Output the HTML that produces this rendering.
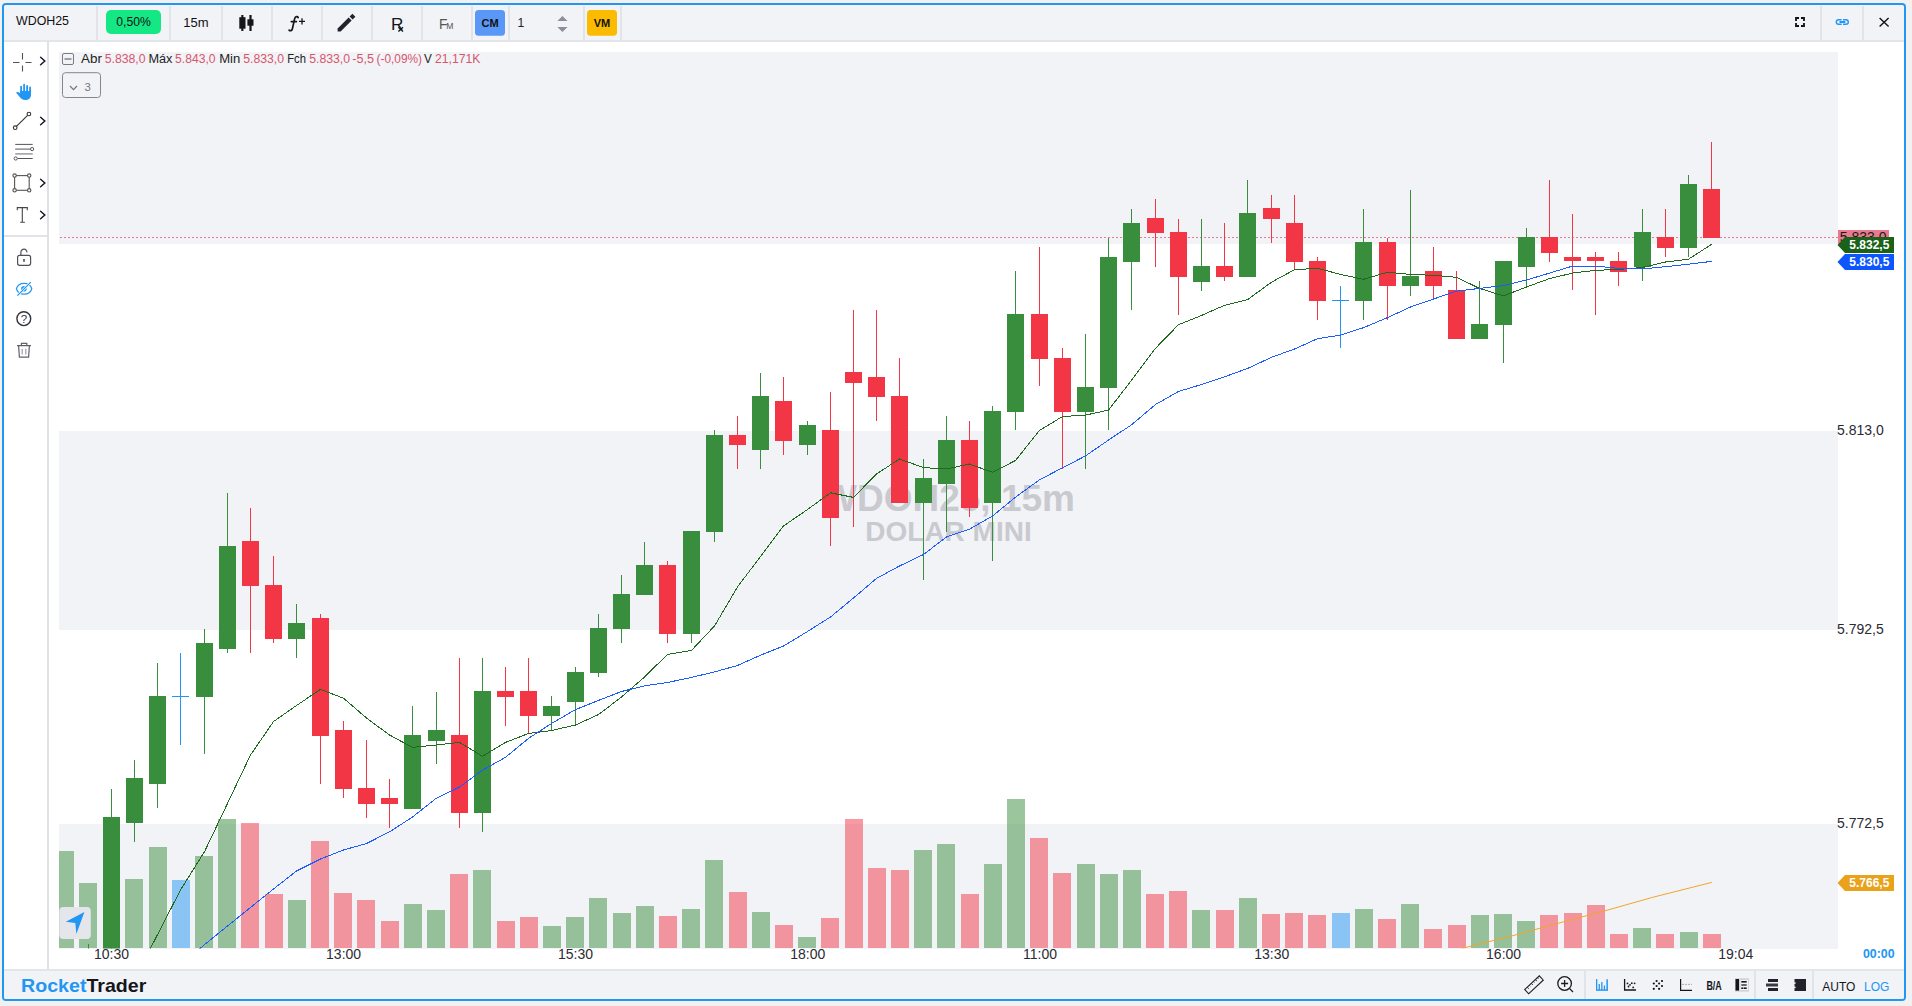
<!DOCTYPE html>
<html><head><meta charset="utf-8"><style>
*{margin:0;padding:0;box-sizing:border-box}
html,body{width:1912px;height:1006px;overflow:hidden;background:#f1f1f1;font-family:"Liberation Sans",sans-serif;color:#111}
.a{position:absolute}
#frame{left:2px;top:3px;width:1904px;height:998px;border:2px solid #2196f3;border-radius:4px;background:#fff;overflow:hidden}
#tb{left:4px;top:5px;width:1900px;height:37px;background:#f1f3f7;border-bottom:2px solid #e2e5ea;border-radius:4px 4px 0 0}
.sep{position:absolute;top:6px;width:2px;height:33px;background:#e2e5ea}
#side{left:4px;top:42px;width:45px;height:927px;background:#fff;border-right:2px solid #dfe2e7}
#ft{left:4px;top:969px;width:1900px;height:30px;background:#f1f3f7;border-top:2px solid #e2e5ea;border-radius:0 0 2px 2px}
.t{position:absolute;white-space:nowrap;line-height:1}
svg{position:absolute;left:0;top:0}
</style></head><body>
<div id="frame" class="a"></div>
<div id="tb" class="a"></div>
<div id="side" class="a"></div>
<div id="ft" class="a"></div>
<svg width="1912" height="1006" viewBox="0 0 1912 1006">
<rect x="59" y="52" width="1779" height="192" fill="#f2f3f7"/>
<rect x="59" y="431" width="1779" height="199" fill="#f2f3f7"/>
<rect x="59" y="824" width="1779" height="125" fill="#f2f3f7"/>
<text x="948.5" y="511" text-anchor="middle" font-family="Liberation Sans" font-weight="bold" font-size="37" fill="#c9cacf">WDOH25, 15m</text>
<text x="948.5" y="540.6" text-anchor="middle" font-family="Liberation Sans" font-weight="bold" font-size="28" fill="#c9cacf">DOLAR MINI</text>
<line x1="60" y1="237.5" x2="1838" y2="237.5" stroke="#e57c93" stroke-width="1" stroke-dasharray="2 2"/>
<clipPath id="pc"><rect x="59" y="52" width="1779" height="896.5"/></clipPath>
<g clip-path="url(#pc)" shape-rendering="crispEdges">
<rect x="56" y="851" width="18" height="97" fill="rgba(56,142,60,0.5)"/>
<rect x="79" y="883" width="18" height="65" fill="rgba(56,142,60,0.5)"/>
<rect x="102" y="948" width="18" height="0" fill="rgba(56,142,60,0.5)"/>
<rect x="125" y="879" width="18" height="69" fill="rgba(56,142,60,0.5)"/>
<rect x="149" y="847" width="18" height="101" fill="rgba(56,142,60,0.5)"/>
<rect x="172" y="880" width="18" height="68" fill="rgba(33,150,243,0.5)"/>
<rect x="195" y="856" width="18" height="92" fill="rgba(56,142,60,0.5)"/>
<rect x="218" y="819" width="18" height="129" fill="rgba(56,142,60,0.5)"/>
<rect x="241" y="823" width="18" height="125" fill="rgba(242,54,69,0.5)"/>
<rect x="265" y="894" width="18" height="54" fill="rgba(242,54,69,0.5)"/>
<rect x="288" y="900" width="18" height="48" fill="rgba(56,142,60,0.5)"/>
<rect x="311" y="841" width="18" height="107" fill="rgba(242,54,69,0.5)"/>
<rect x="334" y="893" width="18" height="55" fill="rgba(242,54,69,0.5)"/>
<rect x="357" y="900" width="18" height="48" fill="rgba(242,54,69,0.5)"/>
<rect x="381" y="921" width="18" height="27" fill="rgba(242,54,69,0.5)"/>
<rect x="404" y="904" width="18" height="44" fill="rgba(56,142,60,0.5)"/>
<rect x="427" y="910" width="18" height="38" fill="rgba(56,142,60,0.5)"/>
<rect x="450" y="874" width="18" height="74" fill="rgba(242,54,69,0.5)"/>
<rect x="473" y="870" width="18" height="78" fill="rgba(56,142,60,0.5)"/>
<rect x="497" y="921" width="18" height="27" fill="rgba(242,54,69,0.5)"/>
<rect x="520" y="917" width="18" height="31" fill="rgba(242,54,69,0.5)"/>
<rect x="543" y="926" width="18" height="22" fill="rgba(56,142,60,0.5)"/>
<rect x="566" y="917" width="18" height="31" fill="rgba(56,142,60,0.5)"/>
<rect x="589" y="898" width="18" height="50" fill="rgba(56,142,60,0.5)"/>
<rect x="613" y="913" width="18" height="35" fill="rgba(56,142,60,0.5)"/>
<rect x="636" y="906" width="18" height="42" fill="rgba(56,142,60,0.5)"/>
<rect x="659" y="916" width="18" height="32" fill="rgba(242,54,69,0.5)"/>
<rect x="682" y="909" width="18" height="39" fill="rgba(56,142,60,0.5)"/>
<rect x="705" y="860" width="18" height="88" fill="rgba(56,142,60,0.5)"/>
<rect x="729" y="892" width="18" height="56" fill="rgba(242,54,69,0.5)"/>
<rect x="752" y="912" width="18" height="36" fill="rgba(56,142,60,0.5)"/>
<rect x="775" y="925" width="18" height="23" fill="rgba(242,54,69,0.5)"/>
<rect x="798" y="937" width="18" height="11" fill="rgba(56,142,60,0.5)"/>
<rect x="821" y="918" width="18" height="30" fill="rgba(242,54,69,0.5)"/>
<rect x="845" y="819" width="18" height="129" fill="rgba(242,54,69,0.5)"/>
<rect x="868" y="868" width="18" height="80" fill="rgba(242,54,69,0.5)"/>
<rect x="891" y="870" width="18" height="78" fill="rgba(242,54,69,0.5)"/>
<rect x="914" y="850" width="18" height="98" fill="rgba(56,142,60,0.5)"/>
<rect x="937" y="844" width="18" height="104" fill="rgba(56,142,60,0.5)"/>
<rect x="961" y="894" width="18" height="54" fill="rgba(242,54,69,0.5)"/>
<rect x="984" y="864" width="18" height="84" fill="rgba(56,142,60,0.5)"/>
<rect x="1007" y="799" width="18" height="149" fill="rgba(56,142,60,0.5)"/>
<rect x="1030" y="838" width="18" height="110" fill="rgba(242,54,69,0.5)"/>
<rect x="1053" y="873" width="18" height="75" fill="rgba(242,54,69,0.5)"/>
<rect x="1077" y="864" width="18" height="84" fill="rgba(56,142,60,0.5)"/>
<rect x="1100" y="874" width="18" height="74" fill="rgba(56,142,60,0.5)"/>
<rect x="1123" y="870" width="18" height="78" fill="rgba(56,142,60,0.5)"/>
<rect x="1146" y="894" width="18" height="54" fill="rgba(242,54,69,0.5)"/>
<rect x="1169" y="891" width="18" height="57" fill="rgba(242,54,69,0.5)"/>
<rect x="1192" y="910" width="18" height="38" fill="rgba(56,142,60,0.5)"/>
<rect x="1216" y="910" width="18" height="38" fill="rgba(242,54,69,0.5)"/>
<rect x="1239" y="898" width="18" height="50" fill="rgba(56,142,60,0.5)"/>
<rect x="1262" y="914" width="18" height="34" fill="rgba(242,54,69,0.5)"/>
<rect x="1285" y="913" width="18" height="35" fill="rgba(242,54,69,0.5)"/>
<rect x="1308" y="915" width="18" height="33" fill="rgba(242,54,69,0.5)"/>
<rect x="1332" y="913" width="18" height="35" fill="rgba(33,150,243,0.5)"/>
<rect x="1355" y="909" width="18" height="39" fill="rgba(56,142,60,0.5)"/>
<rect x="1378" y="919" width="18" height="29" fill="rgba(242,54,69,0.5)"/>
<rect x="1401" y="904" width="18" height="44" fill="rgba(56,142,60,0.5)"/>
<rect x="1424" y="929" width="18" height="19" fill="rgba(242,54,69,0.5)"/>
<rect x="1448" y="925" width="18" height="23" fill="rgba(242,54,69,0.5)"/>
<rect x="1471" y="915" width="18" height="33" fill="rgba(56,142,60,0.5)"/>
<rect x="1494" y="914" width="18" height="34" fill="rgba(56,142,60,0.5)"/>
<rect x="1517" y="921" width="18" height="27" fill="rgba(56,142,60,0.5)"/>
<rect x="1540" y="915" width="18" height="33" fill="rgba(242,54,69,0.5)"/>
<rect x="1564" y="913" width="18" height="35" fill="rgba(242,54,69,0.5)"/>
<rect x="1587" y="905" width="18" height="43" fill="rgba(242,54,69,0.5)"/>
<rect x="1610" y="934" width="18" height="14" fill="rgba(242,54,69,0.5)"/>
<rect x="1633" y="928" width="18" height="20" fill="rgba(56,142,60,0.5)"/>
<rect x="1656" y="934" width="18" height="14" fill="rgba(242,54,69,0.5)"/>
<rect x="1680" y="932" width="18" height="16" fill="rgba(56,142,60,0.5)"/>
<rect x="1703" y="934" width="18" height="14" fill="rgba(242,54,69,0.5)"/>
<rect x="64" y="1000" width="1" height="1" fill="#388e3c"/>
<rect x="56" y="1000" width="17" height="1" fill="#388e3c"/>
<rect x="88" y="944" width="1" height="56" fill="#388e3c"/>
<rect x="80" y="1000" width="17" height="1" fill="#388e3c"/>
<rect x="111" y="789" width="1" height="171" fill="#388e3c"/>
<rect x="103" y="817" width="17" height="143" fill="#388e3c"/>
<rect x="134" y="760" width="1" height="82" fill="#388e3c"/>
<rect x="126" y="778" width="17" height="45" fill="#388e3c"/>
<rect x="157" y="663" width="1" height="145" fill="#388e3c"/>
<rect x="149" y="696" width="17" height="88" fill="#388e3c"/>
<rect x="180" y="653" width="1" height="92" fill="#2196f3"/>
<rect x="172" y="696" width="17" height="1" fill="#2196f3"/>
<rect x="204" y="629" width="1" height="125" fill="#388e3c"/>
<rect x="196" y="643" width="17" height="54" fill="#388e3c"/>
<rect x="227" y="493" width="1" height="160" fill="#388e3c"/>
<rect x="219" y="546" width="17" height="103" fill="#388e3c"/>
<rect x="250" y="508" width="1" height="145" fill="#f23645"/>
<rect x="242" y="541" width="17" height="45" fill="#f23645"/>
<rect x="273" y="556" width="1" height="87" fill="#f23645"/>
<rect x="265" y="585" width="17" height="54" fill="#f23645"/>
<rect x="296" y="604" width="1" height="54" fill="#388e3c"/>
<rect x="288" y="623" width="17" height="16" fill="#388e3c"/>
<rect x="320" y="614" width="1" height="170" fill="#f23645"/>
<rect x="312" y="618" width="17" height="118" fill="#f23645"/>
<rect x="343" y="721" width="1" height="77" fill="#f23645"/>
<rect x="335" y="730" width="17" height="59" fill="#f23645"/>
<rect x="366" y="740" width="1" height="78" fill="#f23645"/>
<rect x="358" y="788" width="17" height="16" fill="#f23645"/>
<rect x="389" y="779" width="1" height="49" fill="#f23645"/>
<rect x="381" y="798" width="17" height="6" fill="#f23645"/>
<rect x="412" y="706" width="1" height="103" fill="#388e3c"/>
<rect x="404" y="735" width="17" height="74" fill="#388e3c"/>
<rect x="436" y="692" width="1" height="72" fill="#388e3c"/>
<rect x="428" y="730" width="17" height="11" fill="#388e3c"/>
<rect x="459" y="658" width="1" height="170" fill="#f23645"/>
<rect x="451" y="735" width="17" height="78" fill="#f23645"/>
<rect x="482" y="658" width="1" height="174" fill="#388e3c"/>
<rect x="474" y="691" width="17" height="122" fill="#388e3c"/>
<rect x="505" y="667" width="1" height="59" fill="#f23645"/>
<rect x="497" y="691" width="17" height="6" fill="#f23645"/>
<rect x="528" y="658" width="1" height="76" fill="#f23645"/>
<rect x="520" y="691" width="17" height="25" fill="#f23645"/>
<rect x="551" y="696" width="1" height="35" fill="#388e3c"/>
<rect x="543" y="706" width="17" height="10" fill="#388e3c"/>
<rect x="575" y="667" width="1" height="59" fill="#388e3c"/>
<rect x="567" y="672" width="17" height="30" fill="#388e3c"/>
<rect x="598" y="614" width="1" height="63" fill="#388e3c"/>
<rect x="590" y="628" width="17" height="45" fill="#388e3c"/>
<rect x="621" y="575" width="1" height="68" fill="#388e3c"/>
<rect x="613" y="594" width="17" height="35" fill="#388e3c"/>
<rect x="644" y="542" width="1" height="53" fill="#388e3c"/>
<rect x="636" y="565" width="17" height="30" fill="#388e3c"/>
<rect x="667" y="561" width="1" height="82" fill="#f23645"/>
<rect x="659" y="565" width="17" height="69" fill="#f23645"/>
<rect x="691" y="531" width="1" height="112" fill="#388e3c"/>
<rect x="683" y="531" width="17" height="103" fill="#388e3c"/>
<rect x="714" y="430" width="1" height="112" fill="#388e3c"/>
<rect x="706" y="435" width="17" height="97" fill="#388e3c"/>
<rect x="737" y="416" width="1" height="53" fill="#f23645"/>
<rect x="729" y="435" width="17" height="10" fill="#f23645"/>
<rect x="760" y="373" width="1" height="96" fill="#388e3c"/>
<rect x="752" y="396" width="17" height="54" fill="#388e3c"/>
<rect x="783" y="377" width="1" height="78" fill="#f23645"/>
<rect x="775" y="401" width="17" height="40" fill="#f23645"/>
<rect x="807" y="421" width="1" height="34" fill="#388e3c"/>
<rect x="799" y="425" width="17" height="20" fill="#388e3c"/>
<rect x="830" y="392" width="1" height="154" fill="#f23645"/>
<rect x="822" y="430" width="17" height="88" fill="#f23645"/>
<rect x="853" y="310" width="1" height="217" fill="#f23645"/>
<rect x="845" y="372" width="17" height="11" fill="#f23645"/>
<rect x="876" y="310" width="1" height="111" fill="#f23645"/>
<rect x="868" y="377" width="17" height="20" fill="#f23645"/>
<rect x="899" y="358" width="1" height="145" fill="#f23645"/>
<rect x="891" y="396" width="17" height="107" fill="#f23645"/>
<rect x="923" y="459" width="1" height="121" fill="#388e3c"/>
<rect x="915" y="478" width="17" height="25" fill="#388e3c"/>
<rect x="946" y="416" width="1" height="116" fill="#388e3c"/>
<rect x="938" y="440" width="17" height="44" fill="#388e3c"/>
<rect x="969" y="421" width="1" height="96" fill="#f23645"/>
<rect x="961" y="440" width="17" height="68" fill="#f23645"/>
<rect x="992" y="406" width="1" height="155" fill="#388e3c"/>
<rect x="984" y="411" width="17" height="92" fill="#388e3c"/>
<rect x="1015" y="271" width="1" height="159" fill="#388e3c"/>
<rect x="1007" y="314" width="17" height="98" fill="#388e3c"/>
<rect x="1039" y="247" width="1" height="139" fill="#f23645"/>
<rect x="1031" y="314" width="17" height="45" fill="#f23645"/>
<rect x="1062" y="348" width="1" height="121" fill="#f23645"/>
<rect x="1054" y="358" width="17" height="54" fill="#f23645"/>
<rect x="1085" y="334" width="1" height="135" fill="#388e3c"/>
<rect x="1077" y="387" width="17" height="25" fill="#388e3c"/>
<rect x="1108" y="238" width="1" height="192" fill="#388e3c"/>
<rect x="1100" y="257" width="17" height="131" fill="#388e3c"/>
<rect x="1131" y="209" width="1" height="101" fill="#388e3c"/>
<rect x="1123" y="223" width="17" height="39" fill="#388e3c"/>
<rect x="1155" y="199" width="1" height="68" fill="#f23645"/>
<rect x="1147" y="218" width="17" height="15" fill="#f23645"/>
<rect x="1178" y="219" width="1" height="96" fill="#f23645"/>
<rect x="1170" y="232" width="17" height="45" fill="#f23645"/>
<rect x="1201" y="219" width="1" height="72" fill="#388e3c"/>
<rect x="1193" y="266" width="17" height="16" fill="#388e3c"/>
<rect x="1224" y="223" width="1" height="58" fill="#f23645"/>
<rect x="1216" y="266" width="17" height="11" fill="#f23645"/>
<rect x="1247" y="180" width="1" height="97" fill="#388e3c"/>
<rect x="1239" y="213" width="17" height="64" fill="#388e3c"/>
<rect x="1271" y="195" width="1" height="48" fill="#f23645"/>
<rect x="1263" y="208" width="17" height="11" fill="#f23645"/>
<rect x="1294" y="195" width="1" height="75" fill="#f23645"/>
<rect x="1286" y="223" width="17" height="39" fill="#f23645"/>
<rect x="1317" y="257" width="1" height="63" fill="#f23645"/>
<rect x="1309" y="261" width="17" height="40" fill="#f23645"/>
<rect x="1340" y="286" width="1" height="62" fill="#2196f3"/>
<rect x="1332" y="300" width="17" height="1" fill="#2196f3"/>
<rect x="1363" y="209" width="1" height="111" fill="#388e3c"/>
<rect x="1355" y="242" width="17" height="59" fill="#388e3c"/>
<rect x="1387" y="238" width="1" height="82" fill="#f23645"/>
<rect x="1379" y="242" width="17" height="44" fill="#f23645"/>
<rect x="1410" y="190" width="1" height="106" fill="#388e3c"/>
<rect x="1402" y="276" width="17" height="10" fill="#388e3c"/>
<rect x="1433" y="247" width="1" height="53" fill="#f23645"/>
<rect x="1425" y="271" width="17" height="15" fill="#f23645"/>
<rect x="1456" y="271" width="1" height="68" fill="#f23645"/>
<rect x="1448" y="290" width="17" height="49" fill="#f23645"/>
<rect x="1479" y="281" width="1" height="58" fill="#388e3c"/>
<rect x="1471" y="324" width="17" height="15" fill="#388e3c"/>
<rect x="1503" y="261" width="1" height="102" fill="#388e3c"/>
<rect x="1495" y="261" width="17" height="64" fill="#388e3c"/>
<rect x="1526" y="228" width="1" height="58" fill="#388e3c"/>
<rect x="1518" y="237" width="17" height="30" fill="#388e3c"/>
<rect x="1549" y="180" width="1" height="82" fill="#f23645"/>
<rect x="1541" y="237" width="17" height="16" fill="#f23645"/>
<rect x="1572" y="214" width="1" height="76" fill="#f23645"/>
<rect x="1564" y="257" width="17" height="4" fill="#f23645"/>
<rect x="1595" y="252" width="1" height="63" fill="#f23645"/>
<rect x="1587" y="257" width="17" height="4" fill="#f23645"/>
<rect x="1618" y="252" width="1" height="34" fill="#f23645"/>
<rect x="1610" y="261" width="17" height="11" fill="#f23645"/>
<rect x="1642" y="209" width="1" height="72" fill="#388e3c"/>
<rect x="1634" y="232" width="17" height="35" fill="#388e3c"/>
<rect x="1665" y="209" width="1" height="48" fill="#f23645"/>
<rect x="1657" y="237" width="17" height="11" fill="#f23645"/>
<rect x="1688" y="175" width="1" height="82" fill="#388e3c"/>
<rect x="1680" y="184" width="17" height="64" fill="#388e3c"/>
<rect x="1711" y="142" width="1" height="96" fill="#f23645"/>
<rect x="1703" y="189" width="17" height="49" fill="#f23645"/>
</g>
<g clip-path="url(#pc)">
<polyline points="134.5,979 157.5,934.7 180.5,890 204.5,851.7 227.5,803.4 250.5,755 273.5,721.6 296.5,705.5 320.5,689.4 343.5,698.2 366.5,718 389.5,735 412.5,747.4 436.5,745 459.5,742.4 482.5,756.3 505.5,742.4 528.5,733.5 551.5,730.5 575.5,725 598.5,714.6 621.5,697 644.5,677 667.5,654.4 691.5,650.4 714.5,626 737.5,587 760.5,556.4 783.5,526 807.5,509.5 830.5,492.8 853.5,497.4 876.5,474 899.5,459 923.5,467.6 946.5,469 969.5,464 992.5,472.3 1015.5,460.5 1039.5,430.4 1062.5,416.5 1085.5,415.1 1108.5,410.1 1131.5,380.3 1155.5,348.3 1178.5,324.7 1201.5,315.5 1224.5,305.3 1247.5,299.7 1271.5,282.2 1294.5,269.7 1317.5,268.3 1340.5,274.4 1363.5,279.3 1387.5,272.2 1410.5,274.5 1433.5,275.3 1456.5,277.3 1479.5,288.4 1503.5,295.9 1526.5,287 1549.5,278.6 1572.5,273.1 1595.5,270.3 1618.5,269.5 1642.5,267.5 1665.5,262 1688.5,259.2 1711.5,244.4" fill="none" stroke="#1e6a1e" stroke-width="1" shape-rendering="crispEdges"/>
<polyline points="180.5,966 204.5,944.6 227.5,926 250.5,907.5 273.5,889 296.5,871 320.5,859 343.5,850 366.5,843.5 389.5,831.9 412.5,817 436.5,798.1 459.5,787.1 482.5,770.2 505.5,757.3 528.5,738.4 551.5,723.5 575.5,709.6 598.5,700.4 621.5,691.5 644.5,685.8 667.5,682.5 691.5,677.4 714.5,671.9 737.5,665.5 760.5,655.2 783.5,646 807.5,631.5 830.5,617 853.5,598 876.5,578.4 899.5,566 923.5,554.5 946.5,537 969.5,529.1 992.5,516 1015.5,497.2 1039.5,479.8 1062.5,467.8 1085.5,455.9 1108.5,440.1 1131.5,424.8 1155.5,404.5 1178.5,391.5 1201.5,384.5 1224.5,376.8 1247.5,368.5 1271.5,357.3 1294.5,349 1317.5,338.7 1340.5,335.1 1363.5,327.7 1387.5,317.6 1410.5,307 1433.5,299 1456.5,291.2 1479.5,288.4 1503.5,285.6 1526.5,280 1549.5,273.1 1572.5,266.1 1595.5,266.1 1618.5,268.3 1642.5,268.9 1665.5,266.7 1688.5,264.2 1711.5,261.4" fill="none" stroke="#1a5cff" stroke-width="1" shape-rendering="crispEdges"/>
<polyline points="1462,948.4 1511.5,936 1559.5,922.9 1604.7,910.9 1652.7,897.3 1711.8,882.4" fill="none" stroke="#efa62a" stroke-width="1"/>
</g>
<text x="1837" y="434.9" font-family="Liberation Sans" font-size="14" fill="#2a2a33">5.813,0</text>
<text x="1837" y="634" font-family="Liberation Sans" font-size="14" fill="#2a2a33">5.792,5</text>
<text x="1837" y="827.9" font-family="Liberation Sans" font-size="14" fill="#2a2a33">5.772,5</text>
<text x="111.5" y="959" text-anchor="middle" font-family="Liberation Sans" font-size="14" fill="#2a2a33">10:30</text>
<text x="343.6" y="959" text-anchor="middle" font-family="Liberation Sans" font-size="14" fill="#2a2a33">13:00</text>
<text x="575.5" y="959" text-anchor="middle" font-family="Liberation Sans" font-size="14" fill="#2a2a33">15:30</text>
<text x="807.7" y="959" text-anchor="middle" font-family="Liberation Sans" font-size="14" fill="#2a2a33">18:00</text>
<text x="1040" y="959" text-anchor="middle" font-family="Liberation Sans" font-size="14" fill="#2a2a33">11:00</text>
<text x="1271.7" y="959" text-anchor="middle" font-family="Liberation Sans" font-size="14" fill="#2a2a33">13:30</text>
<text x="1503.6" y="959" text-anchor="middle" font-family="Liberation Sans" font-size="14" fill="#2a2a33">16:00</text>
<text x="1735.7" y="959" text-anchor="middle" font-family="Liberation Sans" font-size="14" fill="#2a2a33">19:04</text>
<text x="1894.6" y="958" text-anchor="end" font-family="Liberation Sans" font-weight="bold" font-size="12.4" fill="#2196f3">00:00</text>
<rect x="1838" y="230" width="51" height="14" fill="#e8798e"/>
<text x="1839.8" y="242" font-family="Liberation Sans" font-size="14" fill="#1a1a1a">5.833,0</text>
<path d="M1837.5,245.0 L1845.0,237 L1894,237 L1894,253 L1845.0,253 Z" fill="#1b6119"/><text x="1889.4" y="249" text-anchor="end" font-family="Liberation Sans" font-weight="bold" font-size="12" fill="#fff">5.832,5</text>
<path d="M1837.5,262.0 L1845.0,254 L1894,254 L1894,270 L1845.0,270 Z" fill="#0d55ff"/><text x="1889.4" y="266" text-anchor="end" font-family="Liberation Sans" font-weight="bold" font-size="12" fill="#fff">5.830,5</text>
<path d="M1837.5,883.0 L1845.0,875 L1894,875 L1894,891 L1845.0,891 Z" fill="#eaa21a"/><text x="1889.4" y="887" text-anchor="end" font-family="Liberation Sans" font-weight="bold" font-size="12" fill="#fff">5.766,5</text>
</svg>
<svg width="1912" height="1006" viewBox="0 0 1912 1006" font-family="Liberation Sans">
<!-- toolbar separators -->
<g fill="#e1e4e9"><rect x="96" y="6" width="2" height="34"/><rect x="169" y="6" width="2" height="34"/><rect x="221" y="6" width="2" height="34"/><rect x="271" y="6" width="2" height="34"/><rect x="321" y="6" width="2" height="34"/><rect x="371" y="6" width="2" height="34"/><rect x="421" y="6" width="2" height="34"/><rect x="471" y="6" width="2" height="34"/><rect x="508" y="6" width="2" height="34"/><rect x="583" y="6" width="2" height="34"/><rect x="620" y="6" width="2" height="34"/><rect x="1820" y="6" width="2" height="34"/><rect x="1862" y="6" width="2" height="34"/></g>
<text x="16" y="25.3" font-size="12.4" fill="#111">WDOH25</text>
<rect x="106" y="10" width="55" height="24" rx="5" fill="#13e884"/>
<text x="133.6" y="26.1" font-size="12.2" fill="#111" text-anchor="middle">0,50%</text>
<text x="196" y="27" font-size="13" fill="#111" text-anchor="middle">15m</text>
<!-- candle icon -->
<g fill="#15151c">
<rect x="239.3" y="17.2" width="6.2" height="11.5"/><rect x="241.3" y="15" width="2.1" height="16"/>
<rect x="247.4" y="19.3" width="6.1" height="6.4"/><rect x="249.4" y="15" width="2.2" height="16"/>
</g>
<path d="M298.2,17.6 C297.6,16.3 295.4,16.2 294.7,18.4 L292.4,28.8 C291.9,31 290,31.2 289.1,30.1 M291.3,21.6 H296.4" fill="none" stroke="#15151c" stroke-width="1.7" stroke-linecap="round"/>
<path d="M299,21.4 H305 M302,18.3 V24.6" stroke="#15151c" stroke-width="1.3"/>
<!-- pencil -->
<path d="M337.6,31.6 L337.6,28.6 L348.6,17.6 L351.6,20.6 L340.6,31.6 Z" fill="#22222e"/>
<path d="M349.6,16.6 L352.4,13.8 L355.4,16.8 L352.6,19.6 Z" fill="#22222e"/>
<text x="391" y="29.6" font-size="17.2" fill="#15151c">R</text>
<path d="M398.4,27.2 L403,31.4 M403,27.2 L398.4,31.4" stroke="#15151c" stroke-width="1.4"/>
<text x="439" y="28.9" font-size="13.8" fill="#555">F</text>
<text x="446.2" y="28.9" font-size="8.6" fill="#555">M</text>
<rect x="475" y="10" width="30" height="25.7" rx="3.5" fill="#5a98f7"/>
<text x="490" y="26.8" font-size="11" font-weight="bold" fill="#111" text-anchor="middle">CM</text>
<text x="517.5" y="26.9" font-size="12.2" fill="#222">1</text>
<path d="M557.4,21.1 L562.45,15.9 L567.5,21.1 Z M557.4,26.9 L567.5,26.9 L562.45,31.9 Z" fill="#8d8e99"/>
<rect x="587" y="10" width="30" height="25.7" rx="3.5" fill="#fbbb00"/>
<text x="602" y="26.8" font-size="11" font-weight="bold" fill="#111" text-anchor="middle">VM</text>
<!-- fullscreen -->
<path d="M1796,21 V18 H1799 M1801,18 H1804 V21 M1804,23 V26 H1801 M1799,26 H1796 V23" fill="none" stroke="#111" stroke-width="1.8"/>
<!-- link -->
<path d="M1841.6,19.7 H1838.6 A2.3,2.3 0 0 0 1838.6,24.3 H1841.6 M1843,19.7 H1846 A2.3,2.3 0 0 1 1846,24.3 H1843" fill="none" stroke="#2196f3" stroke-width="1.4"/><path d="M1840.2,22 H1844.6" stroke="#2196f3" stroke-width="1.9" stroke-linecap="round"/>
<!-- close -->
<path d="M1879.6,18 L1888.6,26.4 M1888.6,18 L1879.6,26.4" stroke="#111" stroke-width="1.4"/>

<!-- sidebar -->
<g stroke="#50505a" stroke-width="1.1" fill="none">
<path d="M13,62.5 H19.5 M25.5,62.5 H31.5 M22.5,53 V59.5 M22.5,65.5 V71.5"/>
</g>
<g stroke="#1a1a2a" stroke-width="1.5" fill="none" stroke-linecap="round">
<path d="M40.6,57.3 L44.8,61 L40.6,64.7"/>
<path d="M40.6,117.3 L44.8,121 L40.6,124.7"/>
<path d="M40.6,179.3 L44.8,183 L40.6,186.7"/>
<path d="M40.6,211.3 L44.8,215 L40.6,218.7"/>
</g>
<!-- hand -->
<g fill="#2196f3">
<rect x="20.2" y="85.7" width="1.8" height="9" rx="0.9"/>
<rect x="23.2" y="83.8" width="1.8" height="10" rx="0.9"/>
<rect x="26.2" y="85" width="1.8" height="9" rx="0.9"/>
<rect x="29.2" y="86.5" width="1.8" height="8" rx="0.9"/>
<path d="M16,92.6 C16.8,91.6 18.5,91.8 20.2,93.2 L20.2,91 L31,91 L31,95 C31,98 28.5,100 25.3,100 C22.5,100 20.8,98.6 19.5,96.8 Z"/>
</g>
<!-- line tool -->
<g stroke="#333" stroke-width="1.1" fill="#fff">
<line x1="16.4" y1="126.4" x2="27.6" y2="115.3"/>
<circle cx="15.2" cy="127.7" r="1.8"/><circle cx="28.9" cy="114" r="1.8"/>
</g>
<!-- fib lines -->
<g stroke="#555" stroke-width="1" fill="#fff">
<line x1="15.2" y1="144.4" x2="32.7" y2="144.4"/>
<line x1="15.2" y1="149.1" x2="30.3" y2="149.1"/>
<line x1="15.2" y1="153.9" x2="32.7" y2="153.9" stroke="#9a9aa2" stroke-width="1.5"/>
<line x1="17.5" y1="158.5" x2="32.7" y2="158.5"/>
<circle cx="32.1" cy="149.1" r="1.6"/><circle cx="15.7" cy="158.5" r="1.6"/>
</g>
<!-- rectangle -->
<g stroke="#555" stroke-width="1.1" fill="#fff">
<rect x="14.6" y="175.6" width="14.6" height="14.7" fill="none"/>
<circle cx="14.6" cy="175.6" r="1.7"/><circle cx="29.2" cy="175.6" r="1.7"/>
<circle cx="14.6" cy="190.3" r="1.7"/><circle cx="29.2" cy="190.3" r="1.7"/>
</g>
<!-- T -->
<path d="M17.3,210.3 V207.6 H27.3 V210.3 M22.3,207.6 V222.2 M20.2,222.2 H24.9" stroke="#444" stroke-width="1.1" fill="none"/>
<rect x="4" y="235" width="43" height="2" fill="#e0e3e8"/>
<!-- lock -->
<g stroke="#50505a" stroke-width="1.2" fill="none">
<rect x="17.6" y="255.3" width="13" height="10" rx="2"/>
<path d="M20.9,255 V252 A3,3 0 0 1 26.9,252.4"/>
</g>
<rect x="23.3" y="259" width="1.4" height="2.8" fill="#333"/>
<!-- eye -->
<circle cx="23.9" cy="288.7" r="2.8" fill="#2196f3"/>
<g stroke="#2196f3" stroke-width="1.2" fill="none">
<path d="M16.4,288.8 C18.6,281.6 29.6,281.6 31.8,288.8 C29.6,296 18.6,296 16.4,288.8 Z"/>
<line x1="17.4" y1="295.6" x2="30.8" y2="282.2" stroke="#fff" stroke-width="2.6"/><line x1="17.4" y1="295.6" x2="30.8" y2="282.2"/>
</g>
<!-- help -->
<circle cx="23.8" cy="318.7" r="6.9" stroke="#33333d" stroke-width="1.4" fill="none"/>
<text x="23.9" y="323.4" font-size="11.5" fill="#33333d" text-anchor="middle">?</text>
<!-- trash -->
<g stroke="#60606a" stroke-width="1.2" fill="none">
<path d="M17,345.6 H31 M21.4,345.4 V343.4 H26.8 V345.4 M18.6,345.6 L19.4,357.2 H28.6 L29.4,345.6"/>
</g>
<path d="M22.2,348.8 V354.4 M25.8,348.8 V354.4" stroke="#a0a0a8" stroke-width="1.2"/>

<!-- legend -->
<rect x="62.5" y="53.5" width="11" height="11" rx="1.5" fill="none" stroke="#7a7a80" stroke-width="1"/>
<line x1="64.5" y1="59" x2="71.5" y2="59" stroke="#7a7a80" stroke-width="1.4"/>
<g font-size="12" fill="#222" lengthAdjust="spacingAndGlyphs">
<text x="81.1" y="63" textLength="20.9" lengthAdjust="spacingAndGlyphs">Abr</text><text x="104.7" y="63" fill="#d6566c" textLength="40.9" lengthAdjust="spacingAndGlyphs">5.838,0</text><text x="148.4" y="63" textLength="24.0" lengthAdjust="spacingAndGlyphs">Máx</text><text x="175.1" y="63" fill="#d6566c" textLength="40.5" lengthAdjust="spacingAndGlyphs">5.843,0</text><text x="219.2" y="63" textLength="21.1" lengthAdjust="spacingAndGlyphs">Min</text><text x="243.2" y="63" fill="#d6566c" textLength="40.8" lengthAdjust="spacingAndGlyphs">5.833,0</text><text x="287.2" y="63" textLength="18.7" lengthAdjust="spacingAndGlyphs">Fch</text><text x="309.2" y="63" fill="#d6566c" textLength="40.9" lengthAdjust="spacingAndGlyphs">5.833,0</text><text x="352.2" y="63" fill="#d6566c" textLength="21.7" lengthAdjust="spacingAndGlyphs">-5,5</text><text x="376.5" y="63" fill="#d6566c" textLength="45.5" lengthAdjust="spacingAndGlyphs">(-0,09%)</text><text x="423.9" y="63" textLength="7.8" lengthAdjust="spacingAndGlyphs">V</text><text x="435.0" y="63" fill="#d6566c" textLength="45.4" lengthAdjust="spacingAndGlyphs">21,171K</text>
</g>
<rect x="62.5" y="72.7" width="38" height="24.8" rx="3" fill="none" stroke="#85858c" stroke-width="1"/>
<path d="M70,86 L73.5,89.6 L77,86" stroke="#777" stroke-width="1.2" fill="none"/>
<text x="84.6" y="90.8" font-size="11.4" fill="#777">3</text>

<!-- nav button -->
<rect x="59.3" y="907" width="31.5" height="32" rx="4" fill="#e4e6eb"/>
<path d="M84.4,911.9 L65.8,921.7 L75.3,923 L76.4,934.1 Z" fill="#2196f3"/>

<!-- footer -->
<text x="21.1" y="992" font-size="19" font-weight="bold" fill="#2196f3" textLength="125.2" lengthAdjust="spacingAndGlyphs">Rocket<tspan fill="#15151c">Trader</tspan></text>
<g fill="#e0e3e8">
<rect x="1584" y="971" width="2" height="28"/><rect x="1754" y="971" width="2" height="28"/><rect x="1812" y="971" width="2" height="28"/>
</g>
<!-- ruler -->
<g transform="translate(1534,984.8) rotate(-43)">
<rect x="-10" y="-2.9" width="20" height="5.8" fill="none" stroke="#22222a" stroke-width="1.1"/>
<path d="M-6.5,-2.9 V-0.7 M-3.8,-2.9 V-1.5 M-1,-2.9 V-0.7 M1.8,-2.9 V-1.5 M4.6,-2.9 V-0.7 M7.3,-2.9 V-1.5" stroke="#22222a" stroke-width="0.9"/>
</g>
<!-- zoom -->
<circle cx="1564.6" cy="983.5" r="6.8" fill="none" stroke="#1a1a22" stroke-width="1.3"/>
<path d="M1564.6,980 V987 M1561.1,983.5 H1568.1 M1569.4,988.4 L1573,992" stroke="#1a1a22" stroke-width="1.3"/>
<!-- bar chart blue -->
<g fill="#2196f3">
<rect x="1596" y="989.4" width="12" height="1.4"/>
<rect x="1596" y="979.1" width="1.3" height="11"/>
<rect x="1598.6" y="984" width="1.3" height="6"/>
<rect x="1601.2" y="982" width="1.3" height="8"/>
<rect x="1603.8" y="985.5" width="1.3" height="4.5"/>
<rect x="1606.4" y="979.3" width="1.5" height="11"/>
</g>
<!-- scatter -->
<path d="M1624.6,979 V990 H1636" stroke="#15151c" stroke-width="1.3" fill="none"/>
<g fill="#15151c"><circle cx="1627.5" cy="983.4" r="0.9"/><circle cx="1630" cy="984.8" r="0.9"/><circle cx="1631.8" cy="983.2" r="0.9"/><circle cx="1634.6" cy="983.3" r="0.9"/><circle cx="1628.5" cy="986.5" r="0.9"/><circle cx="1633.2" cy="987.4" r="0.9"/></g>
<!-- dots -->
<g fill="#111"><circle cx="1656.6" cy="981" r="1.1"/><circle cx="1662" cy="981" r="1.1"/><circle cx="1653.8" cy="983.5" r="1.1"/><circle cx="1659.1" cy="983.5" r="1.1"/><circle cx="1656.6" cy="986" r="1.1"/><circle cx="1662" cy="986" r="1.1"/><circle cx="1653.8" cy="988.8" r="1.1"/><circle cx="1659.1" cy="988.8" r="1.1"/></g>
<!-- axis -->
<path d="M1680.6,979 V990.3 H1692" stroke="#15151c" stroke-width="1.2" fill="none"/>
<path d="M1682,984.4 H1692" stroke="#999" stroke-width="0.8" stroke-dasharray="2 1"/>
<text x="1706.4" y="990.2" font-size="12.4" font-weight="bold" fill="#15151c" transform="translate(1706.4 0) scale(0.72 1) translate(-1706.4 0)">B/A</text>
<!-- book -->
<rect x="1735" y="978.2" width="14" height="13.5" fill="#d3d4d8"/>
<rect x="1735.5" y="979" width="3.5" height="11.6" fill="#15151c"/>
<rect x="1740.5" y="980" width="7.5" height="10" fill="#f2f3f6"/>
<g fill="#15151c"><rect x="1741.3" y="981" width="5.4" height="1.6"/><rect x="1741.3" y="984.2" width="5.4" height="1.6" fill="#444"/><rect x="1741.3" y="987.4" width="2" height="1.6"/><rect x="1743.8" y="987.4" width="2.9" height="1.6"/></g>
<!-- two icons -->
<g fill="#22222a">
<rect x="1768" y="979" width="10" height="3"/><rect x="1766" y="983.5" width="12" height="3" fill="#3a3a42"/><rect x="1768" y="988" width="10" height="3"/>
<rect x="1794.5" y="979" width="11.5" height="12"/>
</g>
<rect x="1794" y="982.3" width="1.6" height="1.5" fill="#f1f3f7"/><rect x="1794" y="986.6" width="1.6" height="1.5" fill="#f1f3f7"/>
<text x="1822.3" y="990.8" font-size="12" fill="#15151c">AUTO</text>
<text x="1864" y="990.8" font-size="12" fill="#2196f3">LOG</text>
</svg>

</body></html>
